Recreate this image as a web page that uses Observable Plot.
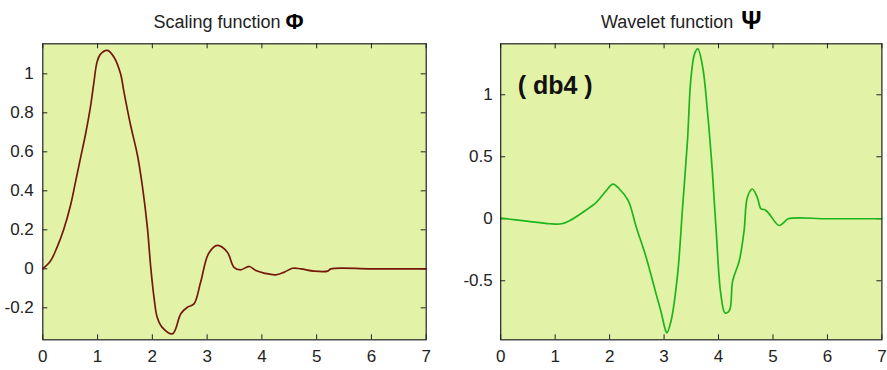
<!DOCTYPE html>
<html>
<head>
<meta charset="utf-8">
<script src="https://cdn.jsdelivr.net/npm/d3@7"></script>
<script src="https://cdn.jsdelivr.net/npm/@observablehq/plot@0.6"></script>
<style>
  html, body { margin: 0; padding: 0; background: #ffffff; }
  #wrap { position: relative; width: 887px; height: 370px; overflow: hidden; }
  #wrap > svg { position: absolute; top: 0; }
</style>
</head>
<body>
<div id="wrap"></div>
<script>
// ---- data (Daubechies db4) ----
const xTicks = [0, 1, 2, 3, 4, 5, 6, 7];

const phiX = [0, 0.14, 0.26, 0.38, 0.51, 0.6, 0.69, 0.78, 0.87, 0.93, 0.99, 1.05, 1.18, 1.30, 1.42, 1.48, 1.60, 1.73, 1.82, 1.91, 1.97, 2.03, 2.09, 2.18, 2.37, 2.52, 2.64, 2.76, 2.88, 3.03, 3.19, 3.37, 3.49, 3.61, 3.77, 3.89, 4.04, 4.25, 4.41, 4.56, 4.71, 4.95, 5.2, 5.26, 6, 7];
const phiY = [0, 0.04, 0.11, 0.20, 0.33, 0.45, 0.57, 0.69, 0.83, 0.95, 1.06, 1.10, 1.12, 1.085, 1.0, 0.91, 0.74, 0.58, 0.42, 0.21, 0.01, -0.146, -0.25, -0.30, -0.333, -0.23, -0.197, -0.18, -0.07, 0.08, 0.12, 0.085, 0.008, -0.005, 0.012, -0.009, -0.022, -0.031, -0.017, 0.003, 0, -0.012, -0.012, 0, 0, 0];
const phiYTicks = [-0.2, 0, 0.2, 0.4, 0.6, 0.8, 1];
const phiYDomain = [-0.364, 1.154];

const psiX = [0, 0.48, 0.9, 1.12, 1.27, 1.51, 1.76, 1.94, 2.06, 2.18, 2.34, 2.49, 2.67, 2.85, 2.95, 3.01, 3.05, 3.13, 3.25, 3.34, 3.43, 3.49, 3.56, 3.62, 3.71, 3.80, 3.89, 3.96, 4.04, 4.12, 4.2, 4.26, 4.38, 4.47, 4.53, 4.62, 4.71, 4.78, 4.84, 4.87, 4.93, 5.11, 5.2, 5.28, 6, 7];
const psiY = [0.005, -0.019, -0.04, -0.04, -0.014, 0.053, 0.134, 0.228, 0.28, 0.24, 0.148, -0.068, -0.31, -0.6, -0.76, -0.874, -0.92, -0.82, -0.44, 0.094, 0.63, 1.115, 1.33, 1.37, 1.22, 0.85, 0.36, -0.12, -0.6, -0.76, -0.74, -0.5, -0.34, -0.094, 0.174, 0.24, 0.174, 0.08, 0.075, 0.067, 0.04, -0.054, -0.03, 0, 0, 0];
const psiYTicks = [-0.5, 0, 0.5, 1];
const psiYDomain = [-0.976, 1.411];

const titles = ["Scaling function", "Wavelet function"];
const symbols = ["\u03A6", "\u03A8"];
const note = "( db4 )";

// ---- drawing ----
const H = 370, MT = 43.3, MB = 30.7;
const BG = "#e2f3a8", INK = "#222222";
const FONT = "'Liberation Sans', Arial, Helvetica, sans-serif";

function panel({xs, ys, yTicks, yDomain, color, width, marginLeft, marginRight, tickPad, title, symbol, titleDx, symDx, symSize, extra = []}) {
  const data = xs.map((x, i) => ({x, y: ys[i]}));
  const innerW = width - marginLeft - marginRight;
  const innerH = H - MT - MB;
  const fmt = d => String(d);
  return Plot.plot({
    width, height: H, marginLeft, marginRight, marginTop: MT, marginBottom: MB,
    x: {domain: [0, 7]},
    y: {domain: yDomain},
    style: {fontFamily: FONT, fontSize: "17px", color: INK, background: "transparent", overflow: "visible"},
    marks: [
      Plot.frame({fill: BG}),
      // inward ticks on all four sides (MATLAB box style)
      Plot.tickX(xTicks, {x: d => d, insetTop: innerH - 5, stroke: INK}),
      Plot.tickX(xTicks, {x: d => d, insetBottom: innerH - 5, stroke: INK}),
      Plot.tickY(yTicks, {y: d => d, insetRight: innerW - 5, stroke: INK}),
      Plot.tickY(yTicks, {y: d => d, insetLeft: innerW - 5, stroke: INK}),
      Plot.axisX(xTicks, {tickSize: 0, tickPadding: 10, tickFormat: fmt, fontSize: 17, label: null}),
      Plot.axisY(yTicks, {tickSize: 0, tickPadding: tickPad, tickFormat: fmt, fontSize: 17, label: null}),
      Plot.line(data, {x: "x", y: "y", stroke: color, strokeWidth: 1.7, curve: "catmull-rom"}),
      Plot.frame({stroke: INK, strokeWidth: 1.2}),
      Plot.text([title], {frameAnchor: "top", dx: titleDx, dy: 27 - MT, textAnchor: "end", lineAnchor: "bottom", fontSize: 18, fill: INK}),
      Plot.text([symbol], {frameAnchor: "top", dx: symDx, dy: 28 - MT, textAnchor: "start", lineAnchor: "bottom", fontSize: symSize, fontWeight: "bold", fill: "#000"}),
      ...extra
    ]
  });
}

const left = panel({
  xs: phiX, ys: phiY, yTicks: phiYTicks, yDomain: phiYDomain, color: "#74190a",
  width: 443, marginLeft: 42.3, marginRight: 17.3, tickPad: 9,
  title: titles[0], symbol: symbols[0], titleDx: 46, symDx: 51, symSize: 22
});
left.style.left = "0px";

const right = panel({
  xs: psiX, ys: psiY, yTicks: psiYTicks, yDomain: psiYDomain, color: "#1eb41e",
  width: 444, marginLeft: 57.2, marginRight: 5.6, tickPad: 8,
  title: titles[1], symbol: symbols[1], titleDx: 42, symDx: 50, symSize: 25,
  extra: [Plot.text([note], {frameAnchor: "top-left", dx: 17, dy: 32, textAnchor: "start", fontSize: 25, fontWeight: "bold", fill: "#111"})]
});
right.style.left = "443px";

const wrap = document.getElementById("wrap");
wrap.appendChild(left);
wrap.appendChild(right);
</script>
</body>
</html>
